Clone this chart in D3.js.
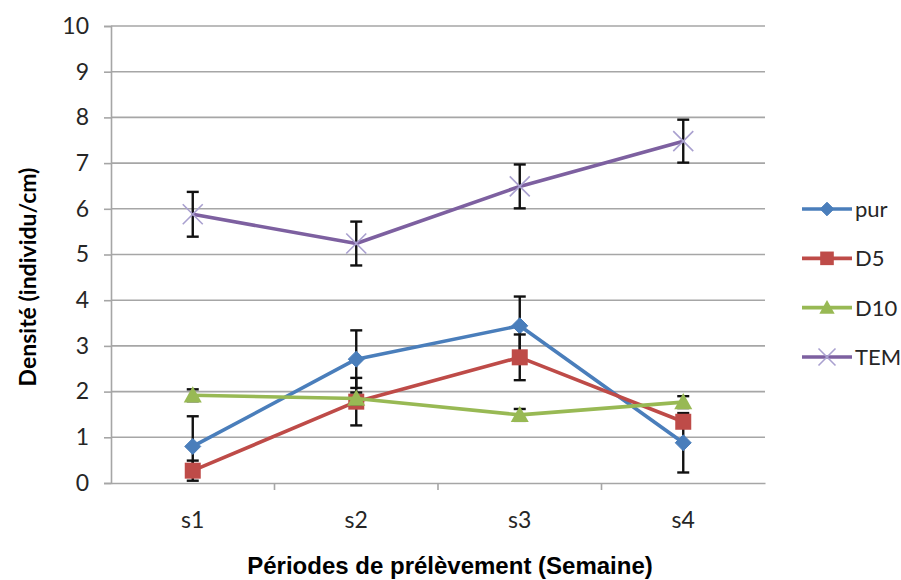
<!DOCTYPE html>
<html>
<head>
<meta charset="utf-8">
<script src="https://cdn.jsdelivr.net/npm/d3@7"></script>
<style>
  html, body { margin: 0; padding: 0; background: #ffffff; }
  svg { display: block; }
</style>
</head>
<body>
<svg id="chart" width="901" height="580"></svg>
<script>
// Sampling weeks
const periods = ["s1", "s2", "s3", "s4"];
const yTicks = [0, 1, 2, 3, 4, 5, 6, 7, 8, 9, 10];

// Mean density per week and standard error for each treatment
const seriesNames = ["pur", "D5", "D10", "TEM"];
const purValues = [0.80, 2.71, 3.44, 0.88];
const purErrors = [0.66, 0.63, 0.64, 0.65];
const d5Values = [0.27, 1.78, 2.75, 1.34];
const d5Errors = [0.22, 0.52, 0.50, 0.12];
const d10Values = [1.92, 1.85, 1.49, 1.77];
const d10Errors = [0.13, 0.13, 0.13, 0.13];
const temValues = [5.88, 5.24, 6.49, 7.48];
const temErrors = [0.49, 0.48, 0.48, 0.47];

const seriesColors = ["#4a7ebb", "#be4b48", "#98b954", "#7d60a0"];
const markerKinds = ["diamond", "square", "triangle", "cross"];

const series = seriesNames.map((name, i) => ({
  name,
  values: [purValues, d5Values, d10Values, temValues][i],
  errors: [purErrors, d5Errors, d10Errors, temErrors][i],
  color: seriesColors[i],
  marker: markerKinds[i]
}));

const svg = d3.select("#chart");
const plot = { left: 111, right: 765, top: 26, bottom: 483 };

const x = d3.scaleBand().domain(periods).range([plot.left, plot.right]);
const y = d3.scaleLinear().domain([0, 10]).range([plot.bottom, plot.top]);
const cx = p => x(p) + x.bandwidth() / 2;

const labelFont = "Lato, 'Open Sans', sans-serif";
const gridColor = "#a6a6a6";

// Horizontal gridlines
svg.append("g")
  .selectAll("line")
  .data(yTicks.filter(t => t > 0))
  .join("line")
  .attr("x1", plot.left).attr("x2", plot.right)
  .attr("y1", d => y(d)).attr("y2", d => y(d))
  .attr("stroke", gridColor).attr("stroke-width", 1.6);

// Value axis
const yAxis = svg.append("g")
  .attr("transform", `translate(${plot.left},0)`)
  .call(d3.axisLeft(y).tickValues(yTicks).tickSize(7).tickPadding(15).tickFormat(d3.format("d")));
yAxis.select(".domain").attr("stroke", gridColor).attr("stroke-width", 1.6);
yAxis.selectAll(".tick line").attr("stroke", gridColor).attr("stroke-width", 1.6);
yAxis.selectAll(".tick text")
  .attr("fill", "#262626")
  .style("font-family", labelFont)
  .style("font-size", "23px");

// Category axis with boundary ticks between weeks
const xAxis = svg.append("g")
  .attr("transform", `translate(0,${plot.bottom})`)
  .call(d3.axisBottom(x).tickSize(0).tickPadding(29));
xAxis.select(".domain").attr("stroke", gridColor).attr("stroke-width", 1.6);
xAxis.selectAll(".tick text")
  .attr("fill", "#262626")
  .style("font-family", labelFont)
  .style("font-size", "23px");
xAxis.append("g")
  .selectAll("line")
  .data(periods.slice(1))
  .join("line")
  .attr("x1", d => x(d)).attr("x2", d => x(d))
  .attr("y1", 0).attr("y2", 7)
  .attr("stroke", gridColor).attr("stroke-width", 1.6);

// Axis titles
svg.append("text")
  .attr("x", 450).attr("y", 574)
  .attr("text-anchor", "middle")
  .style("font-family", "'Liberation Sans', Arial, sans-serif")
  .style("font-weight", "bold")
  .style("font-size", "24px")
  .attr("fill", "#000")
  .text("Périodes de prélèvement (Semaine)");

svg.append("text")
  .attr("transform", "translate(36,277) rotate(-90)")
  .attr("text-anchor", "middle")
  .style("font-family", labelFont)
  .style("font-weight", "bold")
  .style("font-size", "23px")
  .attr("fill", "#000")
  .text("Densité (individu/cm)");

// Marker shapes
function drawMarker(g, kind, color, px, py, scale = 1) {
  if (kind === "diamond") {
    const s = 8 * scale;
    g.append("path")
      .attr("d", `M${px},${py - s}L${px + s},${py}L${px},${py + s}L${px - s},${py}Z`)
      .attr("fill", color).attr("stroke", color).attr("stroke-width", 1);
  } else if (kind === "square") {
    const s = 8 * scale;
    g.append("rect")
      .attr("x", px - s).attr("y", py - s).attr("width", 2 * s).attr("height", 2 * s)
      .attr("fill", color);
  } else if (kind === "triangle") {
    const s = 9 * scale;
    g.append("path")
      .attr("d", `M${px},${py - s}L${px + s},${py + s * 0.8}L${px - s},${py + s * 0.8}Z`)
      .attr("fill", color);
  } else {
    const s = 10 * scale;
    g.append("path")
      .attr("d", `M${px - s},${py - s}L${px + s},${py + s}M${px - s},${py + s}L${px + s},${py - s}`)
      .attr("stroke", "#a9a0cf").attr("stroke-width", 1.6).attr("fill", "none");
  }
}

const line = d3.line().x(d => cx(d.p)).y(d => y(d.v));

series.forEach(s => {
  const g = svg.append("g");
  const pts = periods.map((p, i) => ({ p, v: s.values[i], e: s.errors[i] }));

  // Standard error bars
  pts.forEach(d => {
    const px = cx(d.p);
    const y0 = y(d.v - d.e), y1 = y(d.v + d.e);
    g.append("line").attr("x1", px).attr("x2", px).attr("y1", y0).attr("y2", y1)
      .attr("stroke", "#111").attr("stroke-width", 2.4);
    [y0, y1].forEach(yy => g.append("line")
      .attr("x1", px - 6).attr("x2", px + 6).attr("y1", yy).attr("y2", yy)
      .attr("stroke", "#111").attr("stroke-width", 2.4));
  });

  g.append("path").datum(pts).attr("d", line)
    .attr("fill", "none").attr("stroke", s.color).attr("stroke-width", 3.6)
    .attr("stroke-linejoin", "round");

  pts.forEach(d => drawMarker(g, s.marker, s.color, cx(d.p), y(d.v)));
});

// Legend
const legendY = d3.scalePoint().domain(seriesNames).range([209, 357]);
const legend = svg.append("g");
series.forEach(s => {
  const ly = legendY(s.name);
  legend.append("line").attr("x1", 802).attr("x2", 852).attr("y1", ly).attr("y2", ly)
    .attr("stroke", s.color).attr("stroke-width", 3.6);
  drawMarker(legend, s.marker, s.color, 827, ly, 0.85);
  legend.append("text")
    .attr("x", 855).attr("y", ly).attr("dy", "0.36em")
    .style("font-family", labelFont).style("font-size", "22px")
    .attr("fill", "#262626")
    .text(s.name);
});
</script>
</body>
</html>
